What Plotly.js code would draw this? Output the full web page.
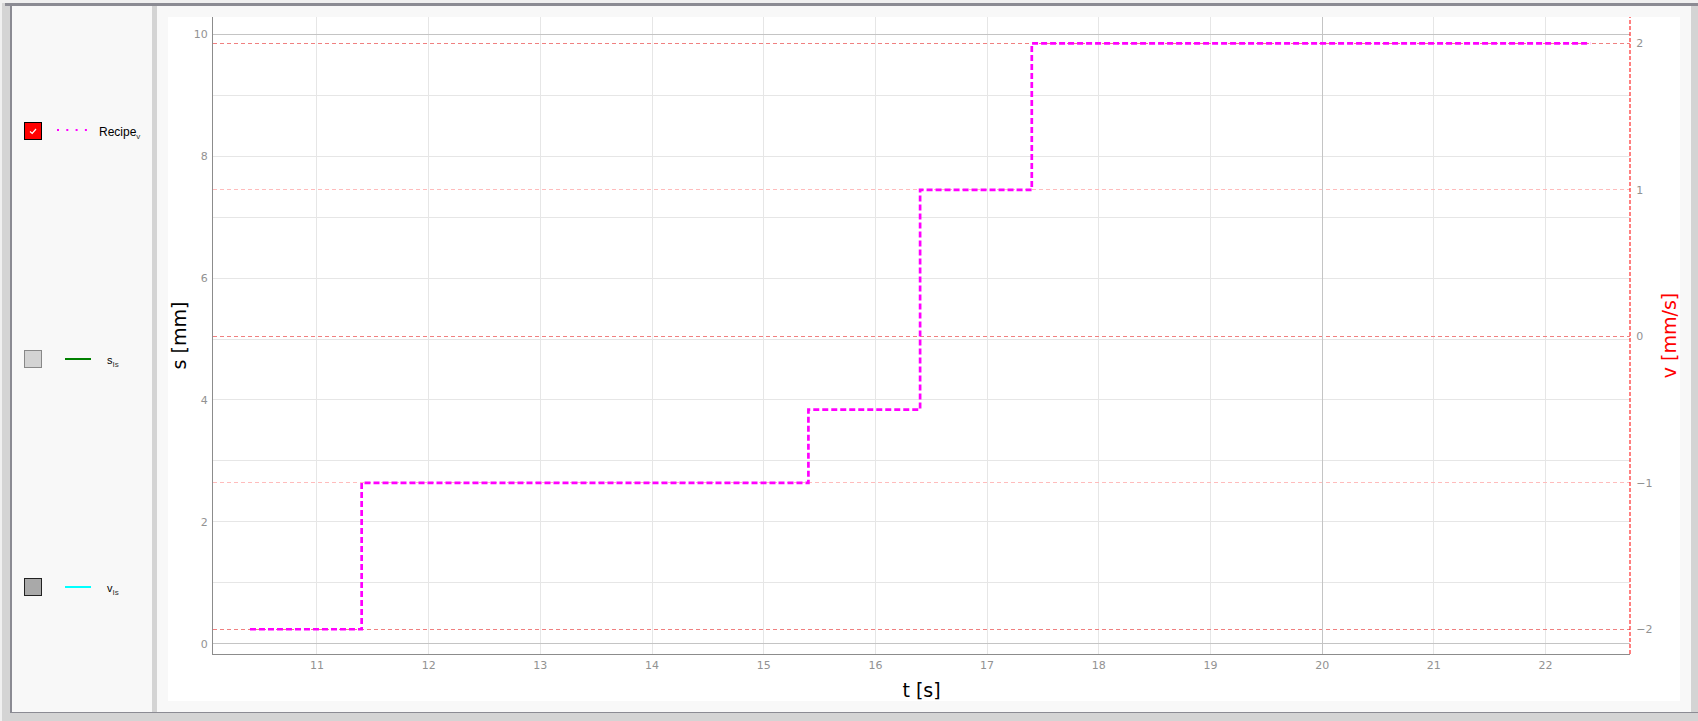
<!DOCTYPE html>
<html>
<head>
<meta charset="utf-8">
<script src="https://cdn.plot.ly/plotly-3.0.1.min.js"></script>
<style>
  html, body { margin: 0; padding: 0; width: 1698px; height: 721px; overflow: hidden; background: #f0f0f0; font-family: "Liberation Sans", Arial, sans-serif; }
  .abs { position: absolute; }
  #chart { position: absolute; left: 168px; top: 17px; width: 1512px; height: 684px; }
  .lbl { position: absolute; color: #000; white-space: nowrap; }
  .lbl sub { font-size: 8px; vertical-align: -3px; color: #333; }
</style>
</head>
<body>
<!-- window frame -->
<div class="abs" style="left:2px;top:3px;width:1696px;height:718px;background:#d4d4d4;"></div>
<div class="abs" style="left:5px;top:3px;width:1693px;height:3px;background:#8b8b93;"></div>
<div class="abs" style="left:10px;top:3px;width:2px;height:710px;background:#8b8b93;"></div>
<div class="abs" style="left:10px;top:712px;width:1688px;height:1px;background:#8b8b93;"></div>
<div class="abs" style="left:12px;top:6px;width:1679px;height:706px;background:#f8f8f8;"></div>
<div class="abs" style="left:152px;top:6px;width:5px;height:706px;background:#d4d4d4;"></div>

<!-- legend panel -->
<div id="legend"></div>

<div id="chart"></div>

<script>
// ---- data ----
var seriesNames = ["Recipe", "s", "v"];
var seriesSubs = ["v", "Is", "Is"];
var recipeT = [10.4, 11.4, 15.4, 16.4, 17.4, 22.4];     // t [s]
var recipeV = [-2, -1, -0.5, 1, 2, 2];                   // v [mm/s]
var sTickVals = [0, 2, 4, 6, 8, 10];
var vTickVals = [-2, -1, 0, 1, 2];

// ---- legend (HTML) ----
var legendRows = [
  {name: seriesNames[0], sub: seriesSubs[0], boxTop: 122, boxFill: "#ff0000", boxBorder: "#000", checked: true,
   lineColor: "#ff00ff", lineX0: 57, lineX1: 87, lineY: 130, dotted: true, textLeft: 99, textTop: 125, size: 12},
  {name: seriesNames[1], sub: seriesSubs[1], boxTop: 350, boxFill: "#d3d3d3", boxBorder: "#888", checked: false,
   lineColor: "#008000", lineX0: 65, lineX1: 91, lineY: 359, dotted: false, textLeft: 107, textTop: 354, size: 11},
  {name: seriesNames[2], sub: seriesSubs[2], boxTop: 578, boxFill: "#a9a9a9", boxBorder: "#222", checked: false,
   lineColor: "#00ffff", lineX0: 65, lineX1: 91, lineY: 587, dotted: false, textLeft: 107, textTop: 582, size: 11}
];
var leg = document.getElementById("legend");
legendRows.forEach(function (r) {
  var box = document.createElement("div");
  box.className = "abs";
  box.style.cssText = "left:24px;top:" + r.boxTop + "px;width:16px;height:16px;background:" + r.boxFill + ";border:1px solid " + r.boxBorder + ";";
  if (r.checked) {
    box.innerHTML = '<svg width="16" height="16" style="position:absolute;left:0;top:0"><polyline points="5,8.5 7.2,10.5 11,6" fill="none" stroke="#fff" stroke-width="1.2"/></svg>';
  }
  leg.appendChild(box);
  var ln = document.createElement("div");
  ln.className = "abs";
  ln.style.cssText = "left:0;top:0;";
  ln.innerHTML = '<svg width="100" height="700" style="position:absolute;left:0;top:0;overflow:visible">' +
    '<line x1="' + r.lineX0 + '" x2="' + r.lineX1 + '" y1="' + r.lineY + '" y2="' + r.lineY + '" stroke="' + r.lineColor + '" stroke-width="2"' +
    (r.dotted ? ' stroke-dasharray="2 7.3"' : '') + '/></svg>';
  leg.appendChild(ln);
  var t = document.createElement("div");
  t.className = "lbl";
  t.style.cssText = "left:" + r.textLeft + "px;top:" + r.textTop + "px;font-size:" + r.size + "px;";
  t.innerHTML = r.name + "<sub>" + r.sub + "</sub>";
  leg.appendChild(t);
});

// ---- chart ----
var xRange = [10.069, 22.756];
var sRange = [-0.169, 10.284];
var vRange = [-2.169, 2.18];
var tickFont = {family: "DejaVu Sans", size: 11, color: "#929292"};
var titleFont = {family: "DejaVu Sans", size: 19, color: "#000"};

// empty helper traces so every axis pair (grid layers) is created
function emptyOn(xa, ya) {
  return {type: "scatter", mode: "lines", x: [], y: [], xaxis: xa, yaxis: ya, hoverinfo: "skip", showlegend: false};
}

var traces = [
  emptyOn("x", "y"),
  emptyOn("x2", "y"),
  emptyOn("x", "y3"),
  emptyOn("x", "y4"),
  {
    type: "scatter",
    mode: "lines",
    name: seriesNames[0] + "_" + seriesSubs[0],
    x: recipeT,
    y: recipeV,
    xaxis: "x",
    yaxis: "y2",
    line: {shape: "hv", color: "#ff00ff", width: 2.7, dash: "6px,3px"},
    hoverinfo: "x+y"
  }
];

var layout = {
  width: 1512,
  height: 684,
  margin: {l: 45, r: 50, t: 0, b: 47, pad: 0},
  paper_bgcolor: "#ffffff",
  plot_bgcolor: "rgba(0,0,0,0)",
  showlegend: false,
  xaxis: {
    range: xRange, tickmode: "linear", tick0: 0, dtick: 1,
    showgrid: true, gridcolor: "#e6e6e6", gridwidth: 1,
    showline: true, linecolor: "#8c8c8c", linewidth: 1,
    zeroline: false, ticks: "outside", ticklen: 1, tickcolor: "rgba(0,0,0,0)", tickfont: tickFont,
    title: {text: "t [s]", font: titleFont, standoff: 12},
    automargin: false
  },
  xaxis2: {
    overlaying: "x", anchor: "y", range: xRange,
    tickmode: "array", tickvals: [20], showticklabels: false,
    showgrid: true, gridcolor: "#c4c4c4", zeroline: false, showline: false, ticks: ""
  },
  yaxis: {
    range: sRange, tickmode: "array", tickvals: sTickVals,
    showgrid: true, gridcolor: "#e6e6e6",
    minor: {dtick: 1, tick0: 0, showgrid: true, gridcolor: "#e6e6e6"},
    showline: true, linecolor: "#8c8c8c", linewidth: 1,
    zeroline: false, ticks: "outside", ticklen: 2, tickcolor: "rgba(0,0,0,0)", tickfont: tickFont,
    title: {text: "s [mm]", font: titleFont, standoff: 2},
    automargin: false
  },
  yaxis3: {
    overlaying: "y", anchor: "x", range: sRange,
    tickmode: "array", tickvals: [0, 10], showticklabels: false,
    showgrid: true, gridcolor: "#c4c4c4", zeroline: false, showline: false, ticks: ""
  },
  yaxis2: {
    overlaying: "y", side: "right", anchor: "x", range: vRange,
    tickmode: "array", tickvals: vTickVals,
    showgrid: true, gridcolor: "#ffbcbc", griddash: "4px,3px",
    showline: false, zeroline: false, ticks: "outside", ticklen: 3, tickcolor: "rgba(0,0,0,0)", tickfont: tickFont,
    title: {text: "v [mm/s]", font: {family: "DejaVu Sans", size: 19, color: "#ff0000"}, standoff: 12},
    automargin: false
  },
  yaxis4: {
    overlaying: "y", side: "right", anchor: "x", range: vRange,
    tickmode: "array", tickvals: [-2, 0, 2], showticklabels: false,
    showgrid: true, gridcolor: "#f08080", griddash: "4px,3px",
    showline: false, zeroline: false, ticks: ""
  },
  shapes: [{
    type: "line", xref: "paper", yref: "paper", x0: 1, x1: 1, y0: 0, y1: 1,
    line: {color: "#ff0000", width: 1, dash: "4px,2px"}, layer: "above"
  }]
};

Plotly.newPlot("chart", traces, layout, {displayModeBar: false, staticPlot: true});
</script>
</body>
</html>
